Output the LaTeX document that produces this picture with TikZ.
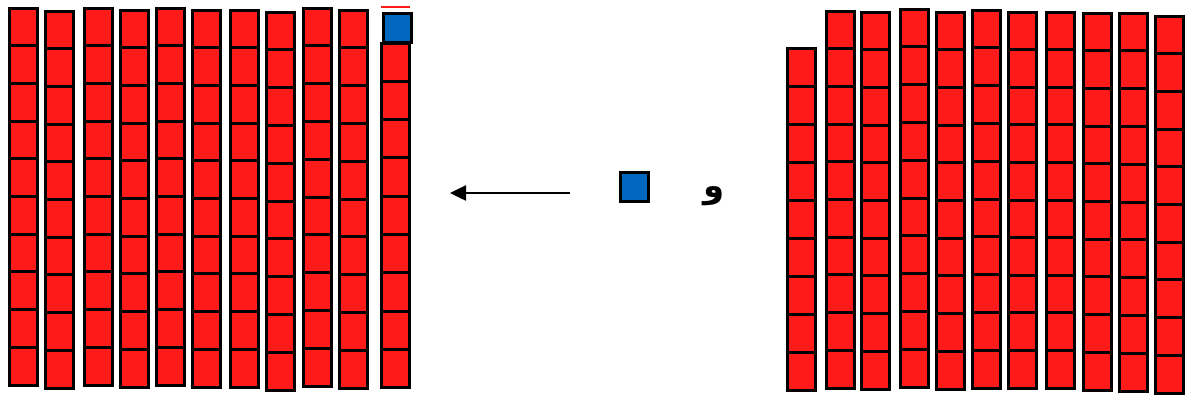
\documentclass[tikz,border=0pt]{standalone}
\usepackage{fontspec}
\usetikzlibrary{arrows.meta, positioning}
\TeXXeTstate=1
\newfontfamily\arabicfont[Script=Arabic]{DejaVu Sans}
\definecolor{brick}{HTML}{FF1A1A}
\definecolor{unitblue}{HTML}{0068BF}
\tikzset{
  >={Triangle[length=16pt, width=15pt]},
  %
  cell/.style={
    draw=black, line width=3pt, fill=brick, inner sep=0pt,
    minimum width=28pt, anchor=north west,
  },
  unit/.style={cell, fill=unitblue, minimum height=29pt},
  %
  flow/.style={draw=black, line width=2.5pt, ->},
  letter/.style={font=\arabicfont\bfseries\fontsize{34}{40}\selectfont, inner sep=0pt},
}

\begin{document}
\begin{tikzpicture}[x=1pt, y=-1pt]

  \useasboundingbox (0,0) rectangle (1187,397);

  % left block: ten columns of ten
  \foreach \x/\top/\bot [count=\c] in
      {6/5/385, 42/8/388, 81/5/385, 117/7/387, 153/5/385,
       189/7/387, 227/7/387, 263/9/390, 300/5/386, 336/7/388}{
    \pgfmathsetmacro\h{(\bot-\top-3)/10}
    \foreach \j in {1,...,10}
      \node[cell, minimum height=\h pt] (L\c-\j)
        at (\x+1.5, \top+1.5+\j*\h-\h) {};
  }

  % last column: one blue unit on nine red
  \foreach \j in {1,...,9}
    \node[cell, minimum height=38.3pt] (L11-\j)
      at (379.5, 41.5+\j*38.3-38.3) {};
  \draw[brick, line width=2.5pt] (381,7) -- (410,7);
  \node[unit] (top) at (381.5, 11.5) {};

  % middle
  \coordinate (tail) at (570,193);
  \coordinate (tip) at (450,193);
  \draw[flow] (tail) -- (tip);
  \node[unit, anchor=center] (blk) at (634.5,187) {};
  \node[letter] (waw) at (714,196) {\beginR و\endR};

  % right block
  \foreach \x/\top/\bot/\n [count=\c] in
      {784/45/390/9, 823/8/388/10, 858/9/389/10, 897/6/387/10,
       933/9/389/10, 969/7/388/10, 1005/9/388/10, 1043/9/388/10,
       1080/10/390/10, 1116/10/391/10, 1152/13/393/10}{
    \pgfmathsetmacro\h{(\bot-\top-3)/\n}
    \foreach \j in {1,...,\n}
      \node[cell, minimum height=\h pt] (R\c-\j)
        at (\x+1.5, \top+1.5+\j*\h-\h) {};
  }

\end{tikzpicture}
\end{document}
